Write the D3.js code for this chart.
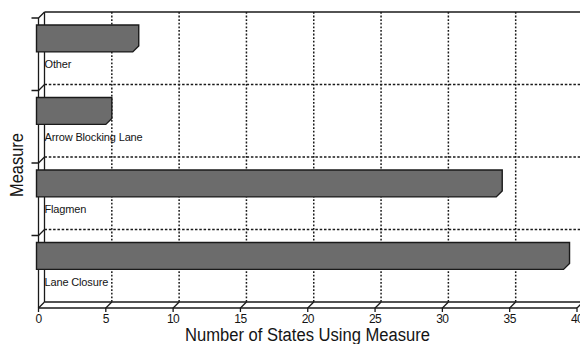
<!DOCTYPE html>
<html><head><meta charset="utf-8">
<script src="https://cdn.jsdelivr.net/npm/d3@7"></script>
<style>
body{margin:0;background:#fff}
svg{display:block}
text{font-family:"Liberation Sans",Arial,sans-serif;fill:#141414}
</style>
</head><body>
<svg id="chart" width="580" height="344"></svg>
<script>
// Traffic-control measures and how many states use each
const categories = ["Other", "Arrow Blocking Lane", "Flagmen", "Lane Closure"];
const statesUsing = [7, 5, 34, 39];
const xTicks = [0, 5, 10, 15, 20, 25, 30, 35, 40];
const xTitle = "Number of States Using Measure";
const yTitle = "Measure";

const svg = d3.select("#chart");
const ink = "#1a1a1a";

// pseudo-3D depth offset between the front and back planes
const dx = 6, dy = 6;

const x = d3.scaleLinear().domain([0, 40]).range([38.5, 577]);
const y = d3.scaleBand().domain(categories).range([12, 302]);   // back plane bands
const xb = v => x(v) + dx;                                     // back-plane x
const floorBack = y.range()[1];
const floorFront = floorBack + dy;
const plotTop = y.range()[0];
const bw = y.bandwidth();

// back frame: top edge
svg.append("line")
  .attr("x1", xb(0)).attr("x2", 585).attr("y1", plotTop).attr("y2", plotTop)
  .attr("stroke", ink).attr("stroke-width", 1.6);

// horizontal dotted gridlines between categories
svg.append("g").selectAll("line")
  .data(categories.slice(1))
  .join("line")
  .attr("x1", xb(0)).attr("x2", 585)
  .attr("y1", d => y(d)).attr("y2", d => y(d))
  .attr("stroke", ink).attr("stroke-width", 1.5)
  .attr("stroke-dasharray", "2.5,1.8");

// vertical dotted gridlines on the back wall
svg.append("g").selectAll("line")
  .data(xTicks.slice(1))
  .join("line")
  .attr("x1", d => xb(d)).attr("x2", d => xb(d))
  .attr("y1", plotTop).attr("y2", floorBack)
  .attr("stroke", ink).attr("stroke-width", 1.5)
  .attr("stroke-dasharray", "1.8,1.8");

// left wall
const wall = svg.append("g").attr("stroke", ink).attr("stroke-width", 1.3).attr("fill", "none");
wall.append("line").attr("x1", xb(0)).attr("x2", xb(0)).attr("y1", plotTop).attr("y2", floorBack);
wall.append("line").attr("x1", x(0)).attr("x2", x(0)).attr("y1", plotTop + dy).attr("y2", floorFront);
const wallMarks = [plotTop].concat(categories.slice(1).map(d => y(d)));
wall.selectAll(".wt").data(wallMarks).join("path")
  .attr("class", "wt")
  .attr("d", b => `M${x(0) - 7},${b + dy} L${x(0)},${b + dy} L${xb(0)},${b}`);

// floor
const floor = svg.append("g").attr("stroke", ink).attr("stroke-width", 1.3).attr("fill", "none");
floor.append("line").attr("x1", x(0)).attr("x2", x(40)).attr("y1", floorFront).attr("y2", floorFront)
  .attr("stroke-width", 1.6);
floor.append("line").attr("x1", xb(0)).attr("x2", xb(40)).attr("y1", floorBack).attr("y2", floorBack);
floor.selectAll(".ft").data(xTicks).join("path")
  .attr("class", "ft")
  .attr("d", t => `M${x(t)},${floorFront + 4} L${x(t)},${floorFront} L${xb(t)},${floorBack}`);

// bars with a bevelled right end
const bars = categories.map((c, i) => ({ c, v: statesUsing[i] }));
svg.append("g").selectAll("path")
  .data(bars)
  .join("path")
  .attr("d", d => {
    const yT = y(d.c) + bw * 0.18, yB = y(d.c) + bw * 0.55;
    return `M${x(0) - 2},${yT} L${xb(d.v)},${yT} L${xb(d.v)},${yB - dy} L${x(d.v)},${yB} L${x(0) - 2},${yB} Z`;
  })
  .attr("fill", "#6c6c6c")
  .attr("stroke", ink).attr("stroke-width", 1.4);

// category labels under each bar
svg.append("g").selectAll("text")
  .data(categories)
  .join("text")
  .attr("x", 44.5)
  .attr("y", d => y(d) + 56)
  .attr("font-size", 11)
  .attr("letter-spacing", -0.15)
  .text(d => d);

// x tick labels
svg.append("g").selectAll("text")
  .data(xTicks)
  .join("text")
  .attr("x", d => x(d))
  .attr("y", 323)
  .attr("text-anchor", "middle")
  .attr("font-size", 12)
  .attr("letter-spacing", -0.6)
  .text(d => d);

// axis titles (narrow setting of an 18px face)
svg.append("text")
  .attr("x", 185).attr("y", 341)
  .attr("font-size", 18)
  .attr("textLength", 245)
  .attr("lengthAdjust", "spacingAndGlyphs")
  .text(xTitle);

svg.append("text")
  .attr("transform", "translate(23,197) rotate(-90)")
  .attr("font-size", 18)
  .attr("textLength", 64)
  .attr("lengthAdjust", "spacingAndGlyphs")
  .text(yTitle);
</script>
</body></html>
